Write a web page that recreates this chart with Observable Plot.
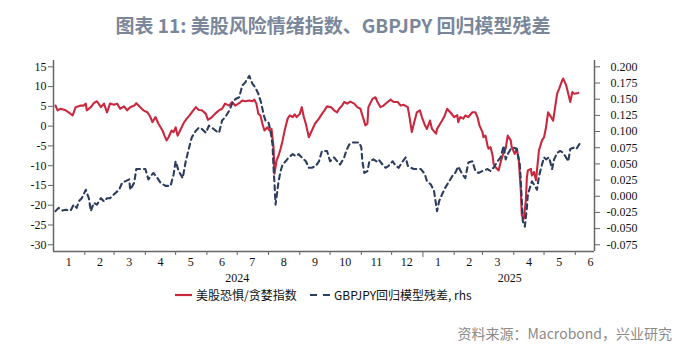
<!DOCTYPE html>
<html><head><meta charset="utf-8">
<script src="https://cdn.jsdelivr.net/npm/d3@7"></script>
<script src="https://cdn.jsdelivr.net/npm/@observablehq/plot@0.6"></script>
<style>
body{margin:0;background:#fff;width:682px;height:350px;overflow:hidden;position:relative;font-family:"Noto Sans CJK SC",sans-serif}
#title{position:absolute;left:0;top:0;width:682px;height:50px;line-height:50px;text-align:center;font-size:19px;font-weight:bold;color:#7a879b;padding-right:16px;box-sizing:border-box}
#chart{position:absolute;left:0;top:50px}
.leg{position:absolute;top:286px;height:18px;line-height:18px;font-size:12px;color:#111;white-space:nowrap}
#source{position:absolute;right:10px;top:322px;height:22px;line-height:22px;font-size:14px;color:#8a8a8a;white-space:nowrap}
</style></head>
<body>
<div id="title">图表 11: 美股风险情绪指数、GBPJPY 回归模型残差</div>
<div id="chart"></div>
<svg class="leg" style="left:175px;width:18px" height="18"><line x1="0" x2="17" y1="9" y2="9" stroke="#c9283e" stroke-width="2.2"/></svg>
<div class="leg" style="left:196px">美股恐惧/贪婪指数</div>
<svg class="leg" style="left:310px;width:22px" height="18"><line x1="0" x2="22" y1="9" y2="9" stroke="#2c3d5e" stroke-width="2.2" stroke-dasharray="7,6"/></svg>
<div class="leg" style="left:334px">GBPJPY回归模型残差, rhs</div>
<div id="source">资料来源：Macrobond，兴业研究</div>
<script>
const startDate = Date.UTC(2024, 0, 1);
const endDate = Date.UTC(2025, 5, 20);

// 美股恐惧/贪婪指数 (left axis): day offset from 2024-01-01, value
const fearDays = [2,4,7,12,15,19,22,27,30,32,33,37,40,43,47,50,53,56,60,63,66,70,73,76,80,82,86,89,93,96,98,101,104,108,110,112,114,117,119,121,123,127,129,132,135,137,141,144,147,151,153,157,160,164,167,170,174,177,180,184,187,190,194,197,199,201,203,205,207,209,212,214,216,218,219,221,223,225,227,229,232,234,237,239,241,244,246,248,250,253,256,259,263,266,269,271,275,278,281,283,286,288,291,294,298,301,304,307,309,311,312,316,319,321,324,327,331,334,337,341,344,347,351,353,355,357,360,363,365,368,370,373,375,379,380,384,387,390,393,397,400,401,403,406,408,411,415,418,420,422,425,426,428,430,431,433,435,436,438,441,443,445,448,450,453,454,457,459,461,463,464,466,468,469,470,473,474,476,478,479,481,484,486,488,490,493,495,497,499,501,504,505,508,510,512,514,516,520];
const fearValues = [5.2,4.0,4.4,4.0,3.5,2.7,4.8,5.2,5.2,5.7,4.0,4.8,5.8,6.3,4.8,5.7,3.5,5.7,5.4,5.7,4.4,5.0,4.0,4.8,5.2,5.8,4.8,4.0,3.5,2.3,1.0,2.3,0.6,-1.1,-2.4,-3.6,-2.8,-1.1,-1.5,-0.3,-2.4,-0.3,0.8,1.9,2.8,3.5,4.8,4.1,4.0,3.1,1.6,2.3,3.1,4.0,4.4,5.7,5.2,6.1,5.2,5.8,6.5,6.3,6.5,6.3,6.7,5.7,3.1,2.7,0.6,-1.1,-0.3,-1.1,-0.7,-5.3,-12.0,-8.7,-7.4,-5.7,-3.6,-1.1,1.9,2.7,2.3,3.0,2.3,3.1,4.8,2.3,0.6,-2.8,-1.1,0.6,1.9,3.1,4.2,5.0,4.8,4.0,3.5,4.4,5.2,6.1,5.7,6.2,5.7,4.8,4.4,1.9,0.2,0.6,4.8,6.9,7.3,6.1,4.8,5.2,6.1,6.7,6.1,6.1,5.2,5.4,4.8,1.9,-1.5,0.6,3.5,4.0,2.3,0.2,-0.7,1.4,-0.7,-1.9,-0.7,1.0,2.3,4.4,3.5,2.3,2.8,1.0,2.3,1.9,2.7,2.3,3.5,3.5,2.3,0.2,-1.5,-2.8,-2.4,-4.9,-5.7,-5.3,-7.4,-9.5,-10.4,-11.2,-9.1,-7.4,-5.7,-2.4,-3.6,-5.3,-7.0,-5.7,-8.7,-16.3,-22.6,-23.4,-18.8,-12.9,-11.2,-10.8,-12.5,-11.6,-13.7,-11.2,-6.1,-3.6,-2.8,-0.3,3.5,2.3,1.4,4.8,8.2,9.5,11.6,12.0,10.3,8.2,6.1,8.6,8.2,8.4];

// GBPJPY回归模型残差 (right axis): day offset from 2024-01-01, value
const gbpDays = [2,5,9,12,17,20,23,25,28,32,35,37,40,43,47,50,53,56,60,65,68,71,75,76,80,82,86,91,94,96,99,103,106,111,116,119,121,124,128,131,134,137,141,144,147,151,154,157,161,164,167,170,174,177,180,184,187,190,194,197,200,203,206,208,210,213,215,217,218,219,220,223,225,227,230,233,237,240,243,246,250,253,256,260,263,266,271,274,278,281,284,288,290,293,296,299,303,305,306,308,311,313,317,320,322,326,329,332,336,339,342,346,349,351,354,357,360,364,368,370,374,377,380,382,385,388,392,395,398,401,405,408,411,415,418,421,425,430,433,436,440,443,446,448,450,453,456,459,462,463,464,465,467,469,470,473,474,477,479,481,484,486,488,491,494,496,499,502,505,507,510,512,515,518,522];
const gbpValues = [-0.023,-0.018,-0.022,-0.021,-0.022,-0.013,-0.018,-0.008,-0.003,0.010,-0.003,-0.023,-0.010,-0.013,-0.003,-0.008,-0.003,-0.003,0.003,0.010,0.021,0.023,0.026,0.010,0.021,0.042,0.042,0.042,0.026,0.031,0.036,0.028,0.021,0.016,0.016,0.034,0.054,0.039,0.028,0.054,0.073,0.091,0.101,0.106,0.104,0.098,0.109,0.106,0.101,0.098,0.117,0.122,0.132,0.143,0.150,0.153,0.171,0.176,0.186,0.174,0.168,0.158,0.143,0.127,0.117,0.114,0.101,0.080,0.044,0.018,-0.013,0.023,0.039,0.049,0.054,0.060,0.065,0.062,0.065,0.060,0.054,0.044,0.044,0.047,0.054,0.070,0.070,0.054,0.060,0.054,0.049,0.060,0.070,0.080,0.083,0.083,0.083,0.075,0.054,0.036,0.039,0.054,0.057,0.054,0.057,0.049,0.044,0.047,0.054,0.047,0.044,0.054,0.060,0.047,0.044,0.042,0.042,0.042,0.034,0.023,0.018,0.008,-0.023,-0.008,0.003,0.013,0.023,0.031,0.036,0.046,0.034,0.028,0.052,0.054,0.039,0.036,0.039,0.042,0.039,0.044,0.054,0.060,0.078,0.057,0.065,0.073,0.075,0.073,0.049,0.023,-0.008,-0.039,-0.047,-0.018,0.003,0.018,0.023,0.016,0.010,0.031,0.049,0.060,0.057,0.060,0.042,0.057,0.067,0.070,0.067,0.062,0.054,0.073,0.075,0.073,0.083];

const leftTicks = [15,10,5,0,-5,-10,-15,-20,-25,-30];
const rightTicks = [0.2,0.175,0.15,0.125,0.1,0.075,0.05,0.025,0,-0.025,-0.05,-0.075];
const monthLabels = ["1","2","3","4","5","6","7","8","9","10","11","12","1","2","3","4","5","6"];
const yearLabels = ["2024","2025"];

const day = d => new Date(startDate + d * 864e5);
const toLeft = v => -30 + (v + 0.075) * (45 / 0.275);
const fromLeft = l => (l + 30) * (0.275 / 45) - 0.075;

const fear = fearDays.map((d, i) => ({date: day(d), v: fearValues[i]}));
const gbp = gbpDays.map((d, i) => ({date: day(d), v: toLeft(gbpValues[i])}));

const monthStarts = d3.range(1, 18).map(i => new Date(Date.UTC(2024, i, 1))).filter(d => +d !== Date.UTC(2025,0,1));
const monthMids = monthLabels.map((m, i) => new Date(Date.UTC(2024, i, 16)));
const yearMids = [new Date(Date.UTC(2024, 6, 1)), new Date(Date.UTC(2025, 2, 28))];

const yMin = -31.7, yMax = 16.6;
const axisColor = "#666";

const chart = Plot.plot({
  width: 682,
  height: 236,
  marginLeft: 53,
  marginRight: 88,
  marginTop: 10,
  marginBottom: 35,
  style: {fontFamily: "'Liberation Serif', serif", fontSize: "12px", color: "#111", background: "#fff"},
  x: {type: "utc", domain: [new Date(startDate), new Date(endDate)]},
  y: {domain: [yMin, yMax]},
  marks: [
    Plot.line(fear, {x: "date", y: "v", stroke: "#c9283e", strokeWidth: 2.1}),
    Plot.line(gbp, {x: "date", y: "v", stroke: "#2c3d5e", strokeWidth: 2.1, strokeDasharray: "5,4"}),
    Plot.ruleX([new Date(startDate)], {stroke: axisColor, strokeWidth: 1.5}),
    Plot.ruleX([new Date(endDate)], {stroke: axisColor, strokeWidth: 1.5}),
    Plot.ruleY([yMin], {stroke: axisColor, strokeWidth: 1.5}),
    Plot.axisY(leftTicks, {anchor: "left", label: null, tickSize: 5, tickPadding: 2, stroke: axisColor, tickFormat: d => String(d)}),
    Plot.axisY(rightTicks.map(toLeft), {anchor: "right", label: null, tickSize: 5, tickPadding: 38, textAnchor: "end", stroke: axisColor, tickFormat: d => (Math.round(fromLeft(d) * 1000) / 1000).toFixed(3)}),
    Plot.axisX(monthStarts, {anchor: "bottom", label: null, tickSize: 4, stroke: axisColor, tickFormat: () => ""}),
    Plot.axisX([new Date(Date.UTC(2025,0,1))], {anchor: "bottom", label: null, tickSize: 6, stroke: axisColor, tickFormat: () => ""}),
    Plot.axisX(monthMids, {anchor: "bottom", label: null, tickSize: 0, tickPadding: 6, tickFormat: (d, i) => monthLabels[i]}),
    Plot.axisX(yearMids, {anchor: "bottom", label: null, tickSize: 0, tickPadding: 22, tickFormat: (d, i) => yearLabels[i]})
  ]
});
document.getElementById("chart").appendChild(chart);
</script>
</body></html>
